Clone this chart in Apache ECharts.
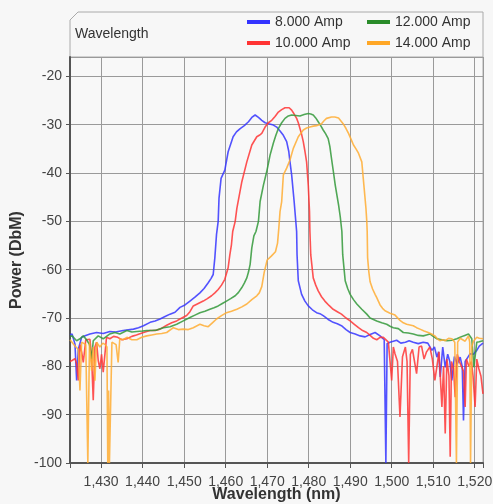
<!DOCTYPE html>
<html>
<head>
<meta charset="utf-8">
<script src="https://cdn.jsdelivr.net/npm/echarts@6/dist/echarts.min.js"></script>
<style>
html,body{margin:0;padding:0;background:#f7f7f7;}
#chart{width:493px;height:504px;}
</style>
</head>
<body>
<div id="chart"></div>
<script>
// ---- data (wavelength nm, power dBm) ----
const seriesNames = ['8.000 Amp', '10.000 Amp', '12.000 Amp', '14.000 Amp'];

const wl8 = [1422.5,1423.0,1423.7,1424.1,1424.5,1425.3,1426.3,1427.3,1428.9,1430.5,1432.1,1433.5,1435.3,1437.8,1439.0,1440.2,1441.8,1443.0,1444.2,1445.4,1446.6,1447.8,1449.0,1450.2,1451.4,1452.6,1453.8,1454.8,1455.8,1456.5,1457.0,1457.4,1457.8,1458.2,1458.4,1458.9,1459.8,1460.6,1461.8,1462.6,1463.5,1464.5,1465.5,1466.3,1467.1,1467.9,1468.7,1469.5,1470.3,1471.3,1472.3,1473.1,1473.9,1474.7,1475.2,1475.5,1475.9,1476.5,1477.1,1477.2,1477.5,1478.3,1479.1,1479.9,1480.9,1481.9,1482.7,1483.5,1484.7,1485.9,1486.9,1487.9,1489.0,1490.0,1491.2,1492.4,1493.6,1494.8,1496.0,1497.2,1498.2,1498.6,1498.9,1499.6,1500.4,1501.2,1502.2,1503.3,1504.2,1505.2,1506.4,1507.6,1508.7,1509.7,1510.3,1510.9,1511.3,1511.7,1512.3,1512.9,1513.5,1514.0,1514.5,1515.1,1515.8,1516.5,1517.0,1517.3,1517.7,1518.3,1518.9,1519.7,1520.5,1521.1,1522.0];
const pw8 = [-73.5,-73.3,-75.4,-82.9,-76.5,-74.0,-73.6,-73.3,-73.0,-73.2,-72.8,-72.9,-72.6,-72.3,-72.0,-71.6,-70.9,-70.6,-70.2,-69.7,-69.2,-68.8,-67.8,-67.3,-66.5,-65.7,-64.8,-63.9,-62.7,-61.8,-61.0,-57.5,-52.7,-50.0,-45.2,-41.1,-39.4,-35.6,-32.5,-31.5,-30.8,-30.2,-29.4,-28.5,-28.0,-28.5,-29.1,-29.6,-29.8,-30.0,-30.5,-31.3,-32.2,-33.5,-35.5,-37.7,-40.4,-45.9,-52.1,-56.9,-62.3,-65.1,-66.5,-67.5,-68.3,-68.9,-69.1,-69.5,-70.3,-70.9,-71.2,-71.6,-72.4,-73.0,-73.3,-73.7,-73.9,-73.4,-73.0,-73.7,-74.5,-100,-75.3,-75.0,-74.8,-74.6,-75.2,-75.0,-74.7,-75.0,-75.3,-75.0,-75.2,-76.7,-76.0,-78.1,-77.0,-82.2,-76.0,-80.2,-77.5,-79.0,-82.9,-78.0,-79.5,-78.1,-80.0,-91.2,-79.0,-78.2,-77.4,-77.5,-76.7,-75.8,-75.2];

const wl10 = [1422.5,1423.0,1423.7,1424.1,1424.5,1424.9,1425.3,1425.7,1426.3,1427.3,1427.7,1428.1,1428.5,1428.9,1429.3,1429.7,1430.1,1430.5,1431.3,1432.1,1433.0,1434.0,1435.0,1436.2,1437.4,1438.5,1440.2,1441.8,1443.0,1444.2,1445.8,1447.0,1448.2,1449.0,1450.6,1451.4,1452.2,1453.4,1454.6,1455.6,1456.6,1457.4,1458.2,1459.0,1459.8,1460.6,1461.0,1461.4,1461.7,1462.3,1462.7,1463.9,1465.1,1466.3,1467.5,1468.1,1468.7,1469.5,1470.3,1471.1,1471.9,1472.7,1473.5,1474.3,1474.7,1475.3,1475.9,1476.5,1477.1,1477.5,1477.9,1478.3,1478.7,1479.1,1479.5,1479.9,1480.2,1480.3,1480.5,1481.1,1481.7,1482.3,1483.1,1483.9,1484.9,1485.9,1486.9,1487.9,1489.0,1490.0,1491.0,1492.0,1493.0,1494.0,1494.8,1495.6,1496.4,1497.2,1498.0,1499.2,1500.0,1500.4,1500.8,1501.4,1502.0,1502.6,1503.3,1503.7,1504.1,1504.5,1505.0,1505.5,1506.0,1506.6,1507.2,1507.8,1508.4,1509.2,1509.8,1510.4,1510.9,1511.4,1512.1,1512.5,1512.9,1513.3,1513.8,1514.1,1514.4,1514.9,1515.3,1515.8,1516.3,1516.8,1517.3,1517.7,1518.0,1518.6,1519.2,1519.6,1520.1,1520.5,1521.0,1521.5,1522.0];
const pw10 = [-79.0,-78.8,-78.4,-79.5,-82.9,-75.5,-77.0,-79.2,-74.5,-74.4,-78.0,-87.0,-76.0,-75.0,-78.8,-80.5,-77.5,-81.2,-74.0,-74.3,-73.8,-74.0,-74.5,-74.3,-73.8,-73.5,-73.0,-72.6,-72.6,-72.3,-71.5,-71.0,-70.6,-70.2,-69.5,-68.7,-67.5,-67.0,-66.5,-66.0,-65.4,-64.8,-64.1,-63.2,-62.0,-59.6,-57.0,-54.8,-52.1,-50.0,-47.3,-41.8,-37.7,-34.2,-32.5,-32.2,-31.8,-30.5,-29.6,-29.1,-28.3,-27.4,-26.9,-26.5,-26.3,-26.5,-27.0,-27.8,-28.7,-29.6,-30.8,-32.0,-33.5,-35.5,-37.7,-42.5,-47.9,-52.1,-56.9,-61.7,-63.2,-64.4,-65.6,-66.5,-67.4,-68.2,-68.7,-69.2,-70.0,-70.6,-71.3,-72.0,-72.6,-73.0,-73.6,-74.2,-74.5,-74.0,-74.0,-75.0,-82.9,-76.0,-77.4,-79.0,-90.5,-78.0,-76.0,-79.0,-100,-77.5,-76.5,-79.0,-81.5,-76.0,-75.8,-78.5,-77.0,-76.0,-78.5,-82.9,-80.0,-77.0,-88.4,-80.0,-93.9,-78.5,-82.0,-98.7,-79.0,-80.5,-86.4,-77.5,-79.0,-80.0,-81.0,-88.4,-78.5,-80.0,-79.0,-82.0,-88.4,-78.5,-80.5,-82.0,-85.7];

const wl12 = [1422.5,1423.0,1424.1,1424.9,1425.7,1426.5,1427.2,1427.7,1428.1,1429.3,1430.5,1431.3,1432.1,1433.3,1434.5,1436.2,1437.4,1438.6,1440.0,1441.0,1442.2,1443.4,1445.0,1446.6,1448.2,1449.8,1451.4,1452.6,1453.8,1455.0,1456.2,1457.2,1458.2,1459.2,1460.2,1461.2,1462.3,1463.1,1463.9,1464.5,1465.1,1465.5,1465.9,1466.3,1466.8,1467.3,1467.9,1468.3,1469.1,1469.9,1470.7,1471.5,1472.1,1472.7,1473.5,1474.3,1475.1,1475.9,1476.9,1477.9,1478.9,1479.9,1480.5,1481.1,1481.7,1482.3,1482.9,1483.5,1484.1,1484.7,1485.1,1485.5,1486.0,1486.4,1487.2,1487.6,1488.0,1488.2,1488.8,1489.4,1490.0,1490.8,1491.6,1492.8,1494.0,1494.8,1495.6,1496.4,1497.6,1498.8,1499.6,1500.4,1501.6,1502.8,1504.0,1505.2,1506.4,1507.6,1508.4,1509.2,1510.0,1510.9,1512.1,1513.3,1514.5,1515.7,1516.5,1517.3,1518.5,1519.3,1519.8,1520.2,1520.5,1521.1,1522.0];
const pw12 = [-73.8,-73.7,-74.7,-74.3,-73.7,-74.5,-75.5,-78.5,-74.7,-73.7,-74.3,-73.8,-73.3,-73.0,-73.3,-72.6,-72.9,-72.8,-72.7,-72.6,-72.6,-72.5,-72.0,-71.8,-71.3,-70.6,-69.9,-69.4,-68.9,-68.6,-68.2,-67.9,-67.5,-67.0,-66.5,-66.0,-65.4,-64.7,-63.7,-62.8,-61.7,-60.5,-58.9,-55.5,-53.0,-52.1,-50.0,-45.9,-42.5,-39.7,-36.3,-33.8,-32.2,-30.8,-29.6,-28.7,-28.2,-28.0,-28.1,-28.2,-27.9,-27.7,-27.8,-28.0,-28.6,-29.4,-30.2,-31.1,-31.9,-32.9,-34.5,-37.0,-40.0,-42.5,-46.6,-49.0,-52.1,-56.9,-62.3,-63.9,-65.1,-66.2,-67.1,-68.2,-69.2,-70.0,-70.3,-70.6,-71.0,-71.3,-71.7,-72.0,-72.2,-73.0,-73.1,-73.3,-73.6,-73.7,-73.5,-73.3,-73.8,-74.3,-74.5,-74.7,-74.6,-74.3,-74.0,-73.7,-73.3,-74.3,-80.2,-80.0,-75.0,-74.9,-74.7];

const wl14 = [1422.5,1422.9,1423.7,1424.5,1424.9,1425.3,1425.7,1426.3,1426.8,1427.2,1427.7,1428.1,1428.5,1428.9,1429.7,1430.4,1431.0,1431.4,1431.6,1431.8,1432.0,1432.3,1432.6,1433.0,1433.6,1434.1,1434.5,1435.3,1436.2,1437.4,1438.6,1439.8,1441.0,1442.2,1443.4,1444.6,1445.8,1447.4,1448.6,1449.8,1451.0,1452.2,1453.8,1454.8,1455.8,1456.8,1457.8,1459.0,1460.2,1461.4,1462.7,1463.9,1465.1,1466.3,1467.5,1468.1,1468.7,1469.3,1470.0,1471.0,1472.0,1472.5,1472.8,1473.1,1473.5,1473.9,1474.7,1475.5,1476.3,1477.5,1478.7,1479.5,1480.3,1481.1,1481.9,1483.1,1483.7,1484.3,1485.5,1486.3,1487.2,1488.3,1489.0,1489.6,1490.2,1490.8,1491.4,1492.0,1492.8,1493.3,1493.8,1494.0,1494.1,1494.2,1494.5,1494.8,1495.4,1496.0,1496.4,1497.2,1497.8,1498.4,1499.6,1500.8,1502.0,1502.8,1503.6,1505.2,1506.0,1506.8,1507.8,1508.8,1509.6,1510.4,1511.0,1511.6,1512.3,1512.9,1513.7,1514.5,1515.2,1515.6,1515.9,1516.5,1517.1,1517.7,1518.5,1518.8,1519.0,1519.3,1519.7,1520.5,1521.1,1522.0];
const pw14 = [-74.5,-74.7,-75.8,-76.5,-85.0,-75.0,-74.7,-75.5,-100,-75.0,-80.9,-76.0,-83.0,-75.0,-76.0,-75.2,-75.5,-76.0,-100,-85.0,-100,-100,-75.0,-74.7,-75.5,-79.2,-74.3,-74.5,-74.0,-74.5,-74.5,-74.0,-73.7,-73.5,-73.3,-73.2,-73.0,-72.0,-72.4,-72.3,-72.4,-72.0,-71.3,-71.6,-71.8,-71.0,-70.2,-69.5,-68.9,-68.6,-68.2,-67.7,-67.1,-66.2,-65.4,-64.8,-63.5,-60.5,-58.0,-57.2,-56.3,-54.5,-51.5,-48.0,-45.9,-40.4,-39.0,-37.3,-34.9,-32.5,-31.1,-30.7,-30.5,-30.3,-30.2,-29.8,-29.2,-28.7,-28.4,-28.4,-28.6,-29.8,-30.8,-31.8,-33.0,-34.2,-35.0,-35.9,-37.7,-42.5,-47.3,-50.0,-52.1,-57.5,-60.5,-62.5,-64.0,-65.1,-65.8,-67.3,-68.0,-68.5,-69.0,-69.4,-70.5,-71.0,-71.3,-71.6,-72.0,-72.3,-72.7,-73.0,-73.3,-73.7,-74.3,-74.7,-74.5,-74.7,-74.2,-74.3,-75.0,-100,-75.0,-74.2,-74.5,-74.8,-73.7,-75.0,-100,-76.0,-74.8,-74.0,-74.2,-74.3];

const colors = ['#3535ff', '#ff3535', '#33993a', '#ffad33'];
const legendColors = ['#3333ff', '#ff3333', '#2a8c2a', '#ffa726'];

function pairs(xs, ys) { return xs.map((x, i) => [x, ys[i]]); }
const allX = [wl8, wl10, wl12, wl14];
const allY = [pw8, pw10, pw12, pw14];

function fmtComma(v) {
  if (Math.abs(v % 10) > 1e-6) return '';
  return String(Math.round(v)).replace(/\B(?=(\d{3})+(?!\d))/g, ',');
}

const chart = echarts.init(document.getElementById('chart'), null, {renderer: 'canvas'});
const font = '"Liberation Sans", Arial, sans-serif';

const option = {
  animation: false,
  backgroundColor: '#f7f7f7',
  textStyle: {fontFamily: font},
  title: {
    text: 'Wavelength',
    left: 75, top: 27, padding: 0,
    textStyle: {fontSize: 14, fontWeight: 'normal', color: '#333', fontFamily: font}
  },
  legend: [
    {
      data: [seriesNames[0], seriesNames[1]],
      orient: 'vertical', left: 247, top: 15, padding: 0,
      itemWidth: 23, itemHeight: 4, itemGap: 7, icon: 'rect',
      textStyle: {fontSize: 14, color: '#333', lineHeight: 14, fontFamily: font},
      selectedMode: false
    },
    {
      data: [seriesNames[2], seriesNames[3]],
      orient: 'vertical', left: 367, top: 15, padding: 0,
      itemWidth: 23, itemHeight: 4, itemGap: 7, icon: 'rect',
      textStyle: {fontSize: 14, color: '#333', lineHeight: 14, fontFamily: font},
      selectedMode: false
    }
  ],
  graphic: [
    {
      type: 'polyline',
      z: 0,
      shape: {points: [[70, 57], [70, 20], [78, 12], [483, 12], [483, 57]]},
      style: {stroke: '#aaaaaa', lineWidth: 1, fill: null}
    }
  ],
  grid: {
    left: 70, top: 57, right: 10, bottom: 41,
    outerBoundsMode: 'none',
    containLabel: false,
    show: true, backgroundColor: '#f8f8f8', borderColor: '#aaaaaa', borderWidth: 1
  },
  xAxis: {
    type: 'value', min: 1422.5, max: 1522, splitNumber: 10,
    name: 'Wavelength (nm)', nameLocation: 'middle', nameGap: 24, nameMoveOverlap: false,
    nameTextStyle: {fontSize: 16, fontWeight: 'bold', color: '#333', fontFamily: font},
    axisLine: {show: true, lineStyle: {color: '#555', width: 2}},
    axisTick: {show: true, length: 5, lineStyle: {color: '#555'}},
    axisLabel: {formatter: fmtComma, fontSize: 14, color: '#444', margin: 12, fontFamily: font, showMinLabel: true, showMaxLabel: true, hideOverlap: false},
    splitLine: {show: true, lineStyle: {color: '#9a9a9a', width: 1}}
  },
  yAxis: {
    type: 'value', min: -100, max: -16, interval: 10,
    name: 'Power (DbM)', nameLocation: 'middle', nameGap: 45, nameMoveOverlap: false,
    nameTextStyle: {fontSize: 16, fontWeight: 'bold', color: '#333', fontFamily: font},
    axisLine: {show: true, lineStyle: {color: '#555', width: 2}},
    axisTick: {show: true, length: 4, lineStyle: {color: '#555'}},
    axisLabel: {fontSize: 14, color: '#444', margin: 8, fontFamily: font, showMaxLabel: false},
    splitLine: {show: true, lineStyle: {color: '#9a9a9a', width: 1}}
  },
  color: legendColors,
  series: seriesNames.map((n, i) => ({
    name: n,
    type: 'line',
    data: pairs(allX[i], allY[i]),
    showSymbol: false,
    symbol: 'none',
    clip: true,
    color: legendColors[i],
    lineStyle: {color: colors[i], width: 1.6, opacity: 0.85},
    emphasis: {disabled: true}
  }))
};
chart.setOption(option);
</script>
</body>
</html>
